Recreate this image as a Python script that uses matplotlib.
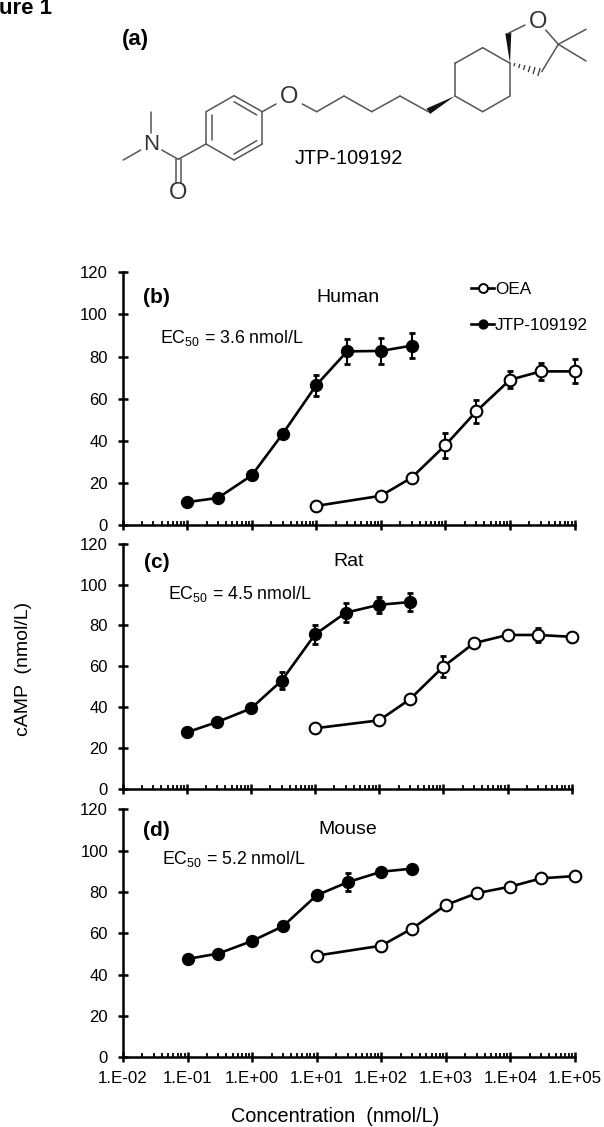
import matplotlib
matplotlib.use("Agg")
import matplotlib.pyplot as plt
from matplotlib.lines import Line2D
from matplotlib.patches import Polygon
from matplotlib.ticker import FixedLocator, NullFormatter, FixedFormatter
import numpy as np

plt.rcParams['font.family'] = ['Liberation Sans', 'DejaVu Sans']
plt.rcParams['mathtext.default'] = 'regular'

W, H = 604, 1127

# ---- data ----
conc_jtp = [0.1, 0.3, 1, 3, 10, 30, 100, 300]
conc_oea = [10, 100, 300, 1000, 3000, 10000, 30000, 100000]

human_jtp = [11, 13, 23.7, 43.3, 66.5, 82.5, 82.7, 85.2]
human_jtp_err = [0.8, 0.8, 1, 1.5, 5, 6, 6, 6]
human_oea = [9.2, 14, 22.6, 38, 54, 69, 73, 73]
human_oea_err = [0.8, 1, 1.5, 6, 5.5, 4, 4, 5.7]

rat_jtp = [27.6, 32.7, 39.3, 52.9, 75.6, 86.2, 90.1, 91.4]
rat_jtp_err = [0.8, 0.8, 1.2, 4.3, 4.5, 4.7, 4, 4.6]
rat_oea = [29.6, 33.5, 43.8, 59.8, 71.3, 75.3, 75.3, 74.4]
rat_oea_err = [0.8, 0.8, 1.5, 5, 1, 2, 3.5, 1.5]

mouse_jtp = [47.6, 50.2, 56.3, 63.4, 78.4, 84.7, 89.8, 91.3]
mouse_jtp_err = [1, 1, 1, 1, 1.5, 4.3, 1, 1]
mouse_oea = [49.2, 54, 62.3, 73.7, 79.4, 82.6, 86.6, 87.7]
mouse_oea_err = [0.8, 0.8, 1, 1, 1, 1, 1, 1]

x_major = [1e-2, 1e-1, 1, 10, 100, 1e3, 1e4, 1e5]
x_tick_labels = ['1.E-02', '1.E-01', '1.E+00', '1.E+01', '1.E+02', '1.E+03', '1.E+04', '1.E+05']
y_ticks = [0, 20, 40, 60, 80, 100, 120]

fig = plt.figure(figsize=(W / 100, H / 100), dpi=100, facecolor='white')


def make_axes(left, right, top, bottom):
    return fig.add_axes([left / W, 1 - bottom / H, (right - left) / W, (bottom - top) / H])


def ftext(x, y, s, **kw):
    kw.setdefault('va', 'center')
    kw.setdefault('ha', 'left')
    kw.setdefault('color', 'black')
    return fig.text(x / W, 1 - y / H, s, **kw)


panels = [
    dict(box=(122.7, 574.5, 272.3, 525.3), jtp=human_jtp, jtpe=human_jtp_err, oea=human_oea, oeae=human_oea_err),
    dict(box=(122.7, 571.7, 543.7, 788.7), jtp=rat_jtp, jtpe=rat_jtp_err, oea=rat_oea, oeae=rat_oea_err),
    dict(box=(123.0, 575.0, 809.3, 1057.3), jtp=mouse_jtp, jtpe=mouse_jtp_err, oea=mouse_oea, oeae=mouse_oea_err),
]

minor = [m * 10.0 ** e for e in range(-2, 5) for m in range(2, 10)]
axes = []
for i, p in enumerate(panels):
    ax = make_axes(*p['box'])
    axes.append(ax)
    ax.set_xscale('log')
    ax.set_xlim(1e-2, 1e5)
    ax.set_ylim(0, 120)
    ax.patch.set_alpha(0)
    for s in ('top', 'right'):
        ax.spines[s].set_visible(False)
    for s in ('left', 'bottom'):
        ax.spines[s].set_linewidth(1.8)
    ax.xaxis.set_major_locator(FixedLocator(x_major))
    ax.xaxis.set_minor_locator(FixedLocator(minor))
    ax.xaxis.set_minor_formatter(NullFormatter())
    ax.set_yticks(y_ticks)
    ax.tick_params(axis='y', which='major', direction='inout', length=6.5, width=1.8, pad=7.5, labelsize=12)
    ax.tick_params(axis='x', which='major', direction='inout', length=6.5, width=1.8, pad=6.5, labelsize=12.2)
    ax.tick_params(axis='x', which='minor', direction='in', length=3, width=1.3)
    if i == 2:
        ax.xaxis.set_major_formatter(FixedFormatter(x_tick_labels))
    else:
        ax.xaxis.set_major_formatter(NullFormatter())

    for xs, ys, es, face, in [(conc_oea, p['oea'], p['oeae'], 'white'), (conc_jtp, p['jtp'], p['jtpe'], 'black')]:
        ax.errorbar(xs, ys, yerr=es, fmt='none', ecolor='black', elinewidth=1.5, capsize=1.9, capthick=2,
                    zorder=2, clip_on=False)
        if face == 'white':
            ax.plot(xs, ys, '-o', color='black', lw=1.9, ms=8.4, mfc='white', mec='black', mew=1.5, zorder=3, clip_on=False)
        else:
            ax.plot(xs, ys, '-o', color='black', lw=1.9, ms=9.6, mfc='black', mec='black', mew=0, zorder=3, clip_on=False)

# legend in the top panel
handles = [
    Line2D([], [], color='black', lw=1.9, marker='o', ms=6.4, mfc='white', mec='black', mew=1.4),
    Line2D([], [], color='black', lw=1.9, marker='o', ms=7.4, mfc='black', mec='black', mew=0),
]
axes[0].legend(handles, ['OEA', 'JTP-109192'], loc='upper left',
               bbox_to_anchor=(471 / W, 1 - 282 / H), bbox_transform=fig.transFigure,
               frameon=False, prop={'size': 12.3}, numpoints=1, handlelength=1.35, handletextpad=0.05,
               labelspacing=1.22, borderpad=0, borderaxespad=0)

# panel annotations
ftext(-1, 9, 'ure 1', fontsize=16, fontweight='bold')
ftext(121.7, 40, '(a)', fontsize=16, fontweight='bold')
ftext(294.3, 158, 'JTP-109192', fontsize=14.3)
ftext(143, 297.7, '(b)', fontsize=15, fontweight='bold')
ftext(144, 562.3, '(c)', fontsize=15, fontweight='bold')
ftext(143.3, 830.7, '(d)', fontsize=15, fontweight='bold')
ftext(347.5, 298, 'Human', fontsize=14, ha='center')
ftext(348.5, 562, 'Rat', fontsize=14, ha='center')
ftext(347.5, 830, 'Mouse', fontsize=14, ha='center')
ftext(160, 338, 'EC$_{50}$ = 3.6 nmol/L', fontsize=12.8)
ftext(168, 594, 'EC$_{50}$ = 4.5 nmol/L', fontsize=12.8)
ftext(161.7, 859, 'EC$_{50}$ = 5.2 nmol/L', fontsize=12.8)
ftext(24, 669, 'cAMP  (nmol/L)', fontsize=14, rotation=90, ha='center')
ftext(334.7, 1116, 'Concentration  (nmol/L)', fontsize=14.3, ha='center')

# ---- chemical structure drawing (pixel space overlay) ----
mol = fig.add_axes([0, 0, 1, 1], zorder=-1)
mol.set_xlim(0, W)
mol.set_ylim(H, 0)
mol.axis('off')
bond_color = '#555555'
bonds = [
    ((150.7, 111.7), (150.7, 132.7)), ((123.3, 160), (140.7, 150)), ((161.7, 150), (178.3, 159.3)),
    ((176, 159), (176, 183)), ((181, 159), (181, 183)), ((178.3, 159.3), (206, 144)),
    ((206, 144), (206, 111.7)), ((206, 111.7), (234, 95.7)), ((234, 95.7), (262.3, 111.7)),
    ((262.3, 111.7), (262.3, 144)), ((262.3, 144), (234, 160)), ((234, 160), (206, 144)),
    ((211.7, 115), (211.7, 140)), ((234, 101.7), (256.7, 115)), ((234, 154), (256.7, 140.7)),
    ((262.3, 111.7), (276, 104)), ((302.3, 104), (316.7, 111.7)), ((316.7, 111.7), (344, 96)),
    ((344, 96), (371.7, 111.7)), ((371.7, 111.7), (400, 96)), ((400, 96), (428.3, 111.7)),
    ((455, 96), (455, 63.3)), ((455, 63.3), (482.7, 47.7)), ((482.7, 47.7), (510, 63.3)),
    ((510, 63.3), (510, 96)), ((510, 96), (482.7, 111.7)), ((482.7, 111.7), (455, 96)),
    ((508.3, 33.3), (525, 25)), ((545.7, 30), (558.3, 44.3)), ((558.3, 44.3), (586, 29.3)),
    ((558.3, 44.3), (586, 61)), ((558.3, 44.3), (541.7, 71.7)),
]
for a, b in bonds:
    mol.plot([a[0], b[0]], [a[1], b[1]], color=bond_color, lw=1.1, solid_capstyle='round')
mol.add_patch(Polygon([(455, 96), (426.5, 108.5), (430, 114)], closed=True, color='#111111', lw=0))
mol.add_patch(Polygon([(510, 63.3), (505.3, 33.5), (511.3, 32.5)], closed=True, color='#111111', lw=0))
start, end = np.array([510, 63.3]), np.array([539, 72])
direction = (end - start) / np.linalg.norm(end - start)
normal = np.array([-direction[1], direction[0]])
for f in (0.15, 0.32, 0.49, 0.66, 0.83, 1.0):
    c = start + (end - start) * f
    half = 0.5 + 3.0 * f
    mol.plot([c[0] - normal[0] * half, c[0] + normal[0] * half],
             [c[1] - normal[1] * half, c[1] + normal[1] * half], color='#333333', lw=0.9)
for x, y, s, size in [(150.7, 145, 'N', 16), (178.3, 192.7, 'O', 17), (289, 96.7, 'O', 17), (537.7, 21.7, 'O', 17)]:
    ftext(x, y, s, fontsize=size, ha='center', color='#333333')

fig.savefig('out.png', dpi=100)
